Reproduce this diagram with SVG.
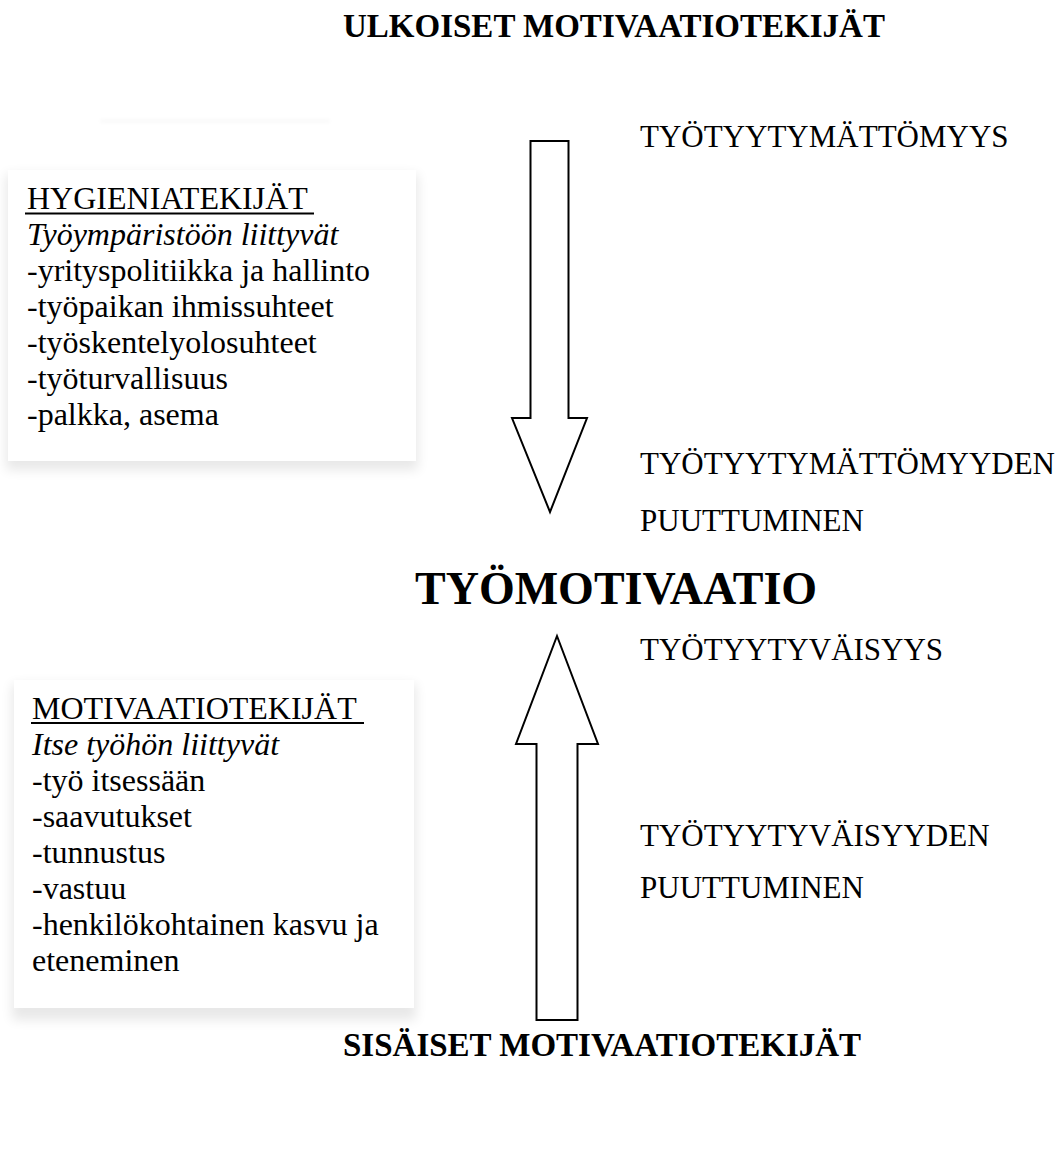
<svg xmlns="http://www.w3.org/2000/svg" width="1063" height="1162" viewBox="0 0 1063 1162">
<defs>
<filter id="soft" x="-10%" y="-10%" width="120%" height="130%">
<feGaussianBlur stdDeviation="6"/>
</filter>
<filter id="faint" x="-10%" y="-300%" width="120%" height="700%">
<feGaussianBlur stdDeviation="2"/>
</filter>
</defs>
<style>
.t{font-family:"Liberation Serif","Times New Roman",serif;font-size:32px;fill:#000}
.l{font-size:31px}
.i{font-style:italic}
.h{font-weight:bold;font-size:33px}
.big{font-weight:bold;font-size:46px}
.arrow{fill:#fff;stroke:#000;stroke-width:2;stroke-linejoin:miter}
.shadow{fill:#000;opacity:0.09;filter:url(#soft)}
.box{fill:#fff}
.ul{stroke:#000;stroke-width:2}
</style>
<rect width="1063" height="1162" fill="#fff"/>

<g id="title-top"><text class="t h" x="343" y="37">ULKOISET MOTIVAATIOTEKIJÄT</text></g>

<g id="hygienia">
<rect x="100" y="120" width="230" height="2" fill="#000" opacity="0.05" filter="url(#faint)"/>
<rect class="shadow" x="6" y="174" width="412" height="296"/>
<rect class="box" x="8" y="170" width="408" height="291"/>
<text class="t" x="27" y="209">HYGIENIATEKIJÄT</text>
<line class="ul" x1="25" y1="213.5" x2="314" y2="213.5"/>
<text class="t i" x="27" y="245">Työympäristöön liittyvät</text>
<text class="t" x="27" y="281">-yrityspolitiikka ja hallinto</text>
<text class="t" x="27" y="317">-työpaikan ihmissuhteet</text>
<text class="t" x="27" y="353">-työskentelyolosuhteet</text>
<text class="t" x="27" y="389">-työturvallisuus</text>
<text class="t" x="27" y="425">-palkka, asema</text>
</g>

<g id="motivaatio">
<rect class="shadow" x="12" y="684" width="404" height="336"/>
<rect class="box" x="14" y="680" width="400" height="328"/>
<text class="t" x="32" y="719">MOTIVAATIOTEKIJÄT</text>
<line class="ul" x1="31" y1="723" x2="364" y2="723"/>
<text class="t i" x="32" y="755">Itse työhön liittyvät</text>
<text class="t" x="32" y="791">-työ itsessään</text>
<text class="t" x="32" y="827">-saavutukset</text>
<text class="t" x="32" y="863">-tunnustus</text>
<text class="t" x="32" y="899">-vastuu</text>
<text class="t" x="32" y="935">-henkilökohtainen kasvu ja</text>
<text class="t" x="32" y="971">eteneminen</text>
</g>

<g id="connectors">
<polygon id="arrow-down" class="arrow" points="530.5,141 568.5,141 568.5,418 587,418 550,512 512,418 530.5,418"/>
<polygon id="arrow-up" class="arrow" points="557,636 598,744 577.5,744 577.5,1020 536.5,1020 536.5,744 516,744"/>
</g>

<g id="labels">
<text class="t l" x="640" y="147">TYÖTYYTYMÄTTÖMYYS</text>
<text class="t l" x="640" y="474">TYÖTYYTYMÄTTÖMYYDEN</text>
<text class="t l" x="640" y="531">PUUTTUMINEN</text>
<text class="t l" x="640" y="660">TYÖTYYTYVÄISYYS</text>
<text class="t l" x="640" y="846">TYÖTYYTYVÄISYYDEN</text>
<text class="t l" x="640" y="898">PUUTTUMINEN</text>
</g>

<g id="center"><text class="t big" x="415" y="604">TYÖMOTIVAATIO</text></g>

<g id="title-bottom"><text class="t h" x="343" y="1056">SISÄISET MOTIVAATIOTEKIJÄT</text></g>
</svg>
